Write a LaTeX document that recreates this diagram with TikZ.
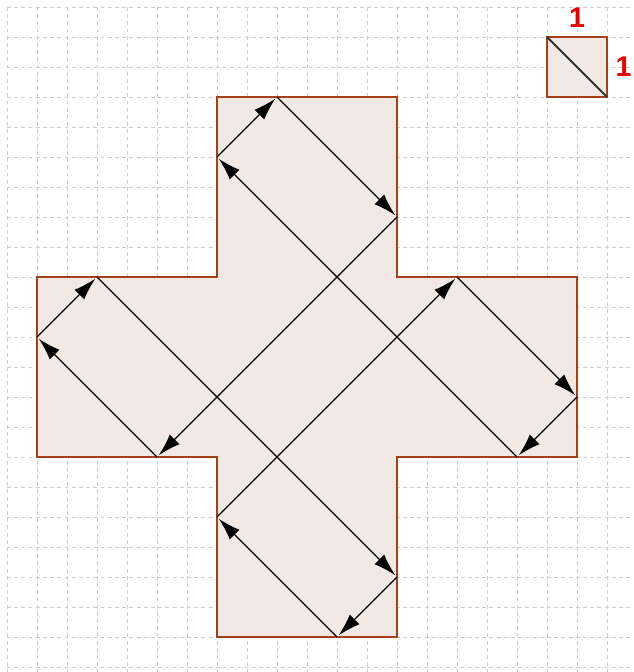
\documentclass[tikz,border=0pt]{standalone}
\usepackage{fontspec}
\setmainfont{Liberation Sans}
\usetikzlibrary{arrows.meta}
\definecolor{shapefill}{RGB}{242,233,228}
\definecolor{shapeedge}{RGB}{165,65,25}
\definecolor{gridgray}{RGB}{205,205,205}
\definecolor{lblred}{RGB}{235,0,0}
\tikzset{
  gridline/.style={gridgray, line width=0.3mm, dash pattern=on 1.3mm off 1.1mm},
  region/.style={fill=shapefill, draw=shapeedge, line width=0.5mm},
  ray/.style={black, line width=0.45mm, -{Latex[length=7.5mm,width=4.6mm]}, shorten >=0.8mm},
  lbl/.style={text=lblred, font=\fontsize{27}{27}\selectfont\bfseries, inner sep=0pt}
}
\begin{document}
\begin{tikzpicture}[x=1cm,y=-1cm]
\useasboundingbox (-0.2333,-0.2333) rectangle (20.8667,22.1667);
% grid
\foreach \i in {0,...,20} \draw[gridline] (\i,0) -- (\i,22.1667);
\foreach \j in {0,...,22} \draw[gridline] (0,\j) -- (20.8667,\j);
% cross
\draw[region] (7,3) -- (13,3) -- (13,9) -- (19,9) -- (19,15) -- (13,15) -- (13,21) -- (7,21) -- (7,15) -- (1,15) -- (1,9) -- (7,9) -- cycle;
% unit square
\draw[region] (18,1) rectangle (20,3);
\coordinate (sq1) at (18,1);
\coordinate (sq2) at (20,3);
\draw[line width=0.6mm, black!80] (sq1) -- (sq2);
\node[lbl] (la) at (19,0.35) {1};
\node[lbl] (lb) at (20.55,2.0) {1};
% path points
\coordinate (A) at (7,5);
\coordinate (B) at (9,3);
\coordinate (C) at (13,7);
\coordinate (D) at (5,15);
\coordinate (E) at (1,11);
\coordinate (F) at (3,9);
\coordinate (G) at (13,19);
\coordinate (H) at (11,21);
\coordinate (I) at (7,17);
\coordinate (J) at (15,9);
\coordinate (K) at (19,13);
\coordinate (L) at (17,15);
\draw[ray] (A) -- (B);
\draw[ray] (B) -- (C);
\draw[ray] (C) -- (D);
\draw[ray] (D) -- (E);
\draw[ray] (E) -- (F);
\draw[ray] (F) -- (G);
\draw[ray] (G) -- (H);
\draw[ray] (H) -- (I);
\draw[ray] (I) -- (J);
\draw[ray] (J) -- (K);
\draw[ray] (K) -- (L);
\draw[ray] (L) -- (A);
\end{tikzpicture}
\end{document}
